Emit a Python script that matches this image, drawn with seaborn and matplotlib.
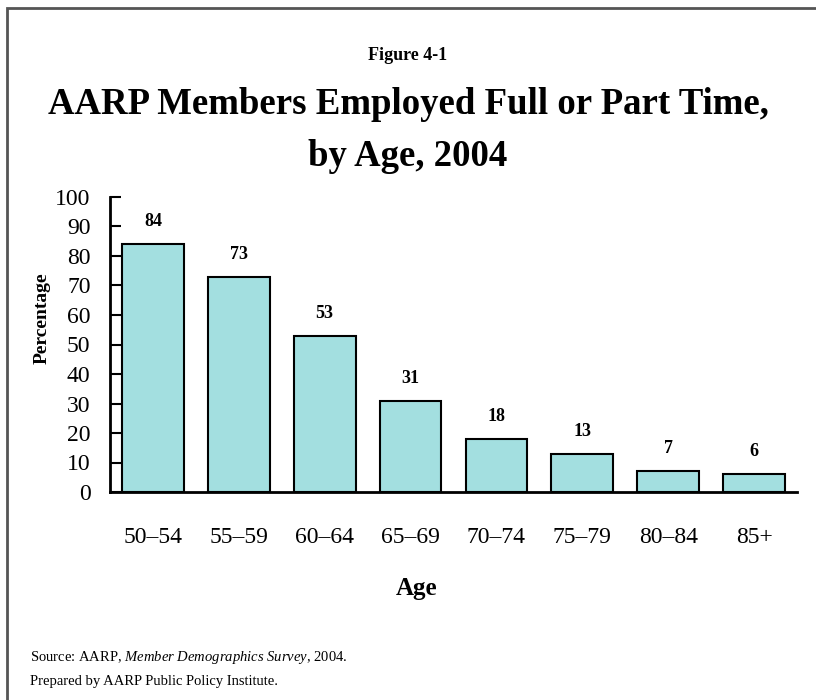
import matplotlib
matplotlib.use("Agg")
import matplotlib.pyplot as plt
import seaborn as sns
import pandas as pd
from matplotlib.patches import Rectangle

ages = ["50–54", "55–59", "60–64", "65–69", "70–74", "75–79", "80–84", "85+"]
percent = [84, 73, 53, 31, 18, 13, 7, 6]
yticks = [0, 10, 20, 30, 40, 50, 60, 70, 80, 90, 100]

sns.set_theme(style="white")
plt.rcParams["font.family"] = ["Liberation Serif", "DejaVu Serif"]
plt.rcParams["text.color"] = "black"
plt.rcParams["axes.labelcolor"] = "black"
plt.rcParams["mathtext.fontset"] = "custom"
plt.rcParams["mathtext.rm"] = "Liberation Serif"
plt.rcParams["mathtext.it"] = "Liberation Serif:italic"

df = pd.DataFrame({"Age": ages, "Percentage": percent})

fig = plt.figure(figsize=(8.16, 7.0), dpi=100)
ax = fig.add_axes([110/816, 1-492/700, (797-110)/816, (492-197)/700])

sns.barplot(data=df, x="Age", y="Percentage", ax=ax, color="#a3dfe0",
            edgecolor="black", linewidth=1.5, width=0.72, saturation=1)

ax.set_xlim(-0.5, 7.5)
ax.set_ylim(0, 100)
ax.set_yticks(yticks)
ax.tick_params(axis="y", direction="in", length=8, width=1.5, labelsize=17, pad=14, left=True, colors="black")
ax.tick_params(axis="x", length=0, labelsize=17, pad=25, colors="black")
for s in ["top", "right"]:
    ax.spines[s].set_visible(False)
for s in ["left", "bottom"]:
    ax.spines[s].set_color("black")
    ax.spines[s].set_linewidth(2)

for i, v in enumerate(percent):
    ax.annotate(str(v), (i, v), xytext=(0, 10), textcoords="offset points",
                ha="center", va="bottom", fontsize=13, fontweight="bold")

ax.set_xlabel("Age", fontsize=18, fontweight="bold")
ax.xaxis.set_label_coords((417-110)/687, (492-588)/295)
ax.xaxis.label.set_va("center")
ax.set_ylabel("Percentage", fontsize=14, fontweight="bold")
ax.yaxis.set_label_coords((42-110)/687, (492-318)/295)
ax.yaxis.label.set_va("center")

fig.text(0.5, 1-55/700, "Figure 4-1", ha="center", va="center", fontsize=13, fontweight="bold")
fig.text(0.5, 1-105/700, "AARP Members Employed Full or Part Time,", ha="center", va="center", fontsize=26.5, fontweight="bold")
fig.text(0.5, 1-157/700, "by Age, 2004", ha="center", va="center", fontsize=26.5, fontweight="bold")

fig.text(30/816, 1-658/700, "Source: AARP, $\\it{Member\\ Demographics\\ Survey}$, 2004.", ha="left", va="center", fontsize=10.5)
fig.text(30/816, 1-681/700, "Prepared by AARP Public Policy Institute.", ha="left", va="center", fontsize=10.5)

fig.patches.append(Rectangle((7/816, -0.1), 1.2, 1.1 - 8/700, transform=fig.transFigure,
                             fill=False, edgecolor="#555555", linewidth=2))

fig.savefig("out.png", dpi=100)
